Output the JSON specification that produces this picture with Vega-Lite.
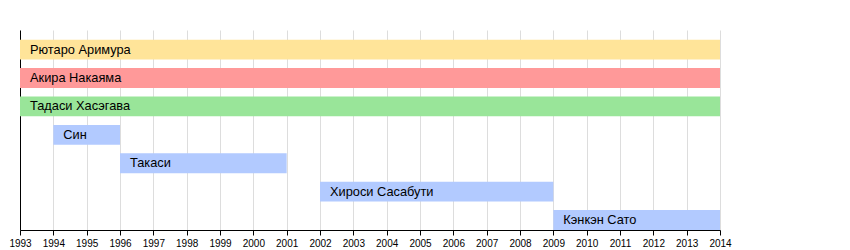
{
  "$schema": "https://vega.github.io/schema/vega-lite/v6.json",
  "width": 700,
  "height": 200,
  "autosize": "none",
  "padding": {"left": 20, "top": 30, "right": 130, "bottom": 20},
  "background": "white",
  "config": {"view": {"stroke": null}, "font": "Liberation Sans"},
  "data": {
    "values": [
      {"name": "Рютаро Аримура", "start": 1993, "end": 2014, "row": 1, "grp": "a"},
      {"name": "Акира Накаяма", "start": 1993, "end": 2014, "row": 2, "grp": "b"},
      {"name": "Тадаси Хасэгава", "start": 1993, "end": 2014, "row": 3, "grp": "c"},
      {"name": "Син", "start": 1994, "end": 1996, "row": 4, "grp": "d"},
      {"name": "Такаси", "start": 1996, "end": 2001, "row": 5, "grp": "d"},
      {"name": "Хироси Сасабути", "start": 2002, "end": 2009, "row": 6, "grp": "d"},
      {"name": "Кэнкэн Сато", "start": 2009, "end": 2014, "row": 7, "grp": "d"}
    ]
  },
  "encoding": {
    "y": {
      "field": "row", "type": "ordinal",
      "scale": {"paddingInner": 0.3, "paddingOuter": 0.17, "align": 1},
      "axis": {"title": null, "labels": false, "ticks": false, "grid": false, "domainColor": "black", "domainWidth": 1}
    },
    "x": {
      "field": "start", "type": "quantitative",
      "scale": {"domain": [1993, 2014], "nice": false, "zero": false},
      "axis": {
        "title": null, "values": [1993,1994,1995,1996,1997,1998,1999,2000,2001,2002,2003,2004,2005,2006,2007,2008,2009,2010,2011,2012,2013,2014],
        "format": "d", "grid": true, "gridColor": "#dddddd", "gridWidth": 1,
        "domainColor": "black", "tickColor": "black", "tickSize": 5,
        "labelColor": "black", "labelFontSize": 10, "labelPadding": 3,
        "labelOverlap": false, "labelBound": false, "labelFlush": false, "zindex": 0
      }
    }
  },
  "layer": [
    {
      "mark": {"type": "bar"},
      "encoding": {
        "x2": {"field": "end"},
        "color": {
          "field": "grp", "type": "nominal", "legend": null,
          "scale": {"domain": ["a","b","c","d"], "range": ["#ffe499", "#ff9999", "#99e599", "#b2caff"]}
        }
      }
    },
    {
      "mark": {"type": "text", "align": "left", "baseline": "middle", "dx": 10, "fontSize": 12.8, "color": "black"},
      "encoding": {
        "text": {"field": "name"}
      }
    }
  ]
}
